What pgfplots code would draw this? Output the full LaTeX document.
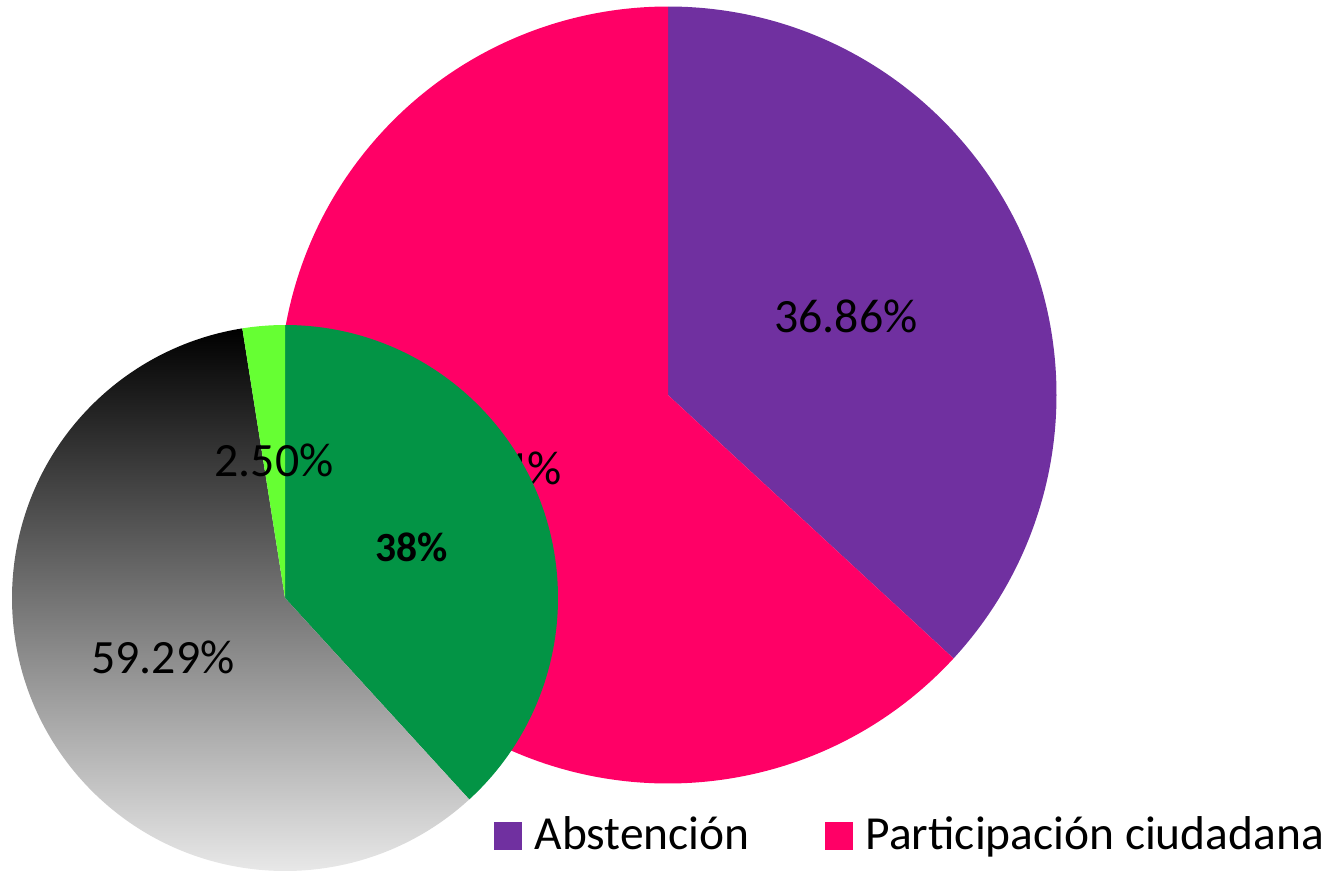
\documentclass[border=0pt]{standalone}
\usepackage{pgfplots}
\pgfplotsset{compat=1.18}
\usepackage{fontspec}
\setmainfont{Carlito}
\definecolor{abst}{HTML}{7030A0}
\definecolor{part}{HTML}{FF0066}
\definecolor{verde}{HTML}{039445}
\definecolor{verdec}{HTML}{66FF33}

% slice: center x, center y, radius, start (%), share (%), style
\newcommand{\slice}[6]{%
  \path[#6] (axis cs:#1,#2) -- ++({90-3.6*(#4)}:#3)
    arc[start angle={90-3.6*(#4)}, end angle={90-3.6*(#4+#5)}, radius=#3] -- cycle;}

\begin{document}
\begin{tikzpicture}
\begin{axis}[
  scale only axis, width=13.44cm, height=8.73cm,
  xmin=0, xmax=1344, ymin=0, ymax=873,
  hide axis, clip=false,
  legend columns=2,
  legend image code/.code={\fill (0cm,-0.14cm) rectangle (0.28cm,0.14cm);},
  legend style={draw=none, fill=none, at={(axis cs:493,37)}, anchor=west,
    font=\fontsize{13.5}{15}\selectfont, inner sep=0pt,
    /tikz/every even column/.append style={column sep=0.62cm},
    nodes={inner sep=1.3mm}},
]
\addlegendimage{fill=abst, draw=none}
\addlegendentry{Abstención}
\addlegendimage{fill=part, draw=none}
\addlegendentry{Participación ciudadana}

% big pie
\slice{668}{478}{3.885cm}{0}{36.86}{fill=abst}
\slice{668}{478}{3.885cm}{36.86}{63.14}{fill=part}
\node[font=\fontsize{13.6}{16}\selectfont] at (axis cs:846,557) {36.86\%};
\node[font=\fontsize{13.6}{16}\selectfont] at (axis cs:490,405) {63.14\%};

% small pie
\slice{285}{275}{2.73cm}{0}{38.21}{fill=verde}
\slice{285}{275}{2.73cm}{38.21}{59.29}{shade, top color=black, bottom color=black!4}
\slice{285}{275}{2.73cm}{97.50}{2.50}{fill=verdec}
\node[font=\fontsize{11.8}{14}\selectfont\bfseries] at (axis cs:412,326) {38\%};
\node[font=\fontsize{13.6}{16}\selectfont] at (axis cs:274,413) {2.50\%};
\node[font=\fontsize{13.6}{16}\selectfont] at (axis cs:163,216) {59.29\%};
\end{axis}
\pgfresetboundingbox
\path (current axis.south west) rectangle (current axis.north east);
\end{tikzpicture}
\end{document}
